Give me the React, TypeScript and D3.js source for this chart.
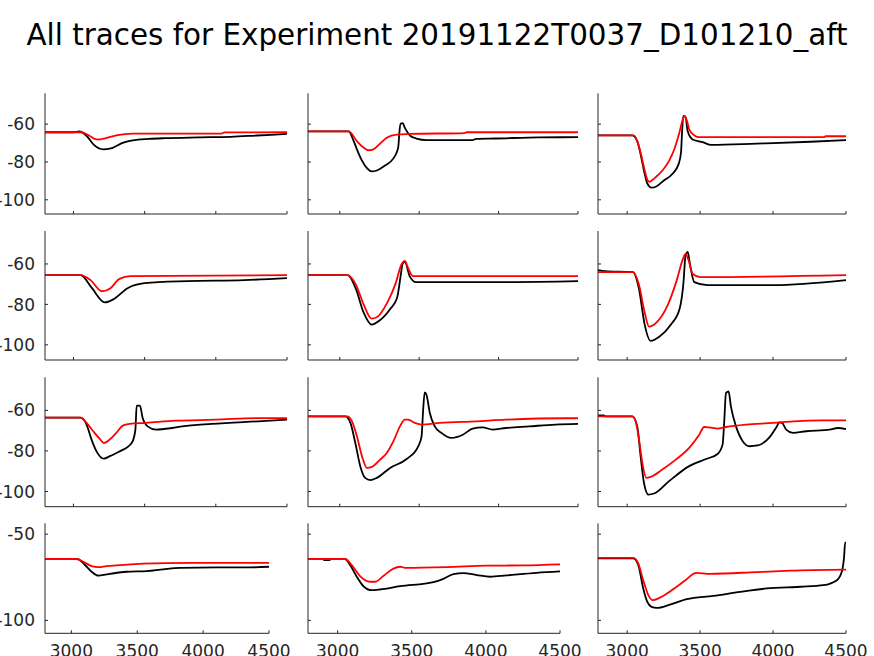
import React from "react";
import * as d3 from "d3";

type Pt = [number, number];

const titleText = "All traces for Experiment 20191122T0037_D101210_aft";
const xTicks = [3000, 3500, 4000, 4500];
const yTicksUpper = [-60, -80, -100];
const yTicksLower = [-50, -100];
const xDomain: Pt = [2800, 4500];
const yDomain: Pt = [-107.5, -43.7];

// Row 1
const r1c1Black: Pt[] = [[2800, -64.3], [3000, -64.3], [3040, -63.9], [3095, -66.4], [3140, -70.7], [3210, -73.3], [3255, -73], [3350, -69.8], [3415, -68.6], [3530, -67.8], [3645, -67.4], [3875, -67], [4105, -66.7], [4290, -66], [4500, -65.2]];
const r1c1Red: Pt[] = [[2800, -64.3], [3051, -64.3], [3110, -66], [3160, -68.1], [3190, -68], [3300, -66], [3415, -65], [4040, -65], [4060, -64.4], [4500, -64.3]];
const r1c2Black: Pt[] = [[2800, -63.8], [3056, -63.8], [3088, -69], [3108, -73.3], [3140, -79.3], [3171, -83.3], [3202, -85], [3233, -84.5], [3285, -81.9], [3338, -78.1], [3358, -75], [3369, -71.6], [3375, -64.7], [3383, -59.8], [3396, -59.5], [3410, -62], [3442, -66], [3483, -67.6], [3546, -68.4], [3837, -68.4], [3858, -67.8], [3983, -67.6], [4254, -67], [4500, -66.9]];
const r1c2Red: Pt[] = [[2800, -63.8], [3056, -63.8], [3108, -69], [3150, -72.4], [3181, -73.8], [3212, -73.3], [3254, -70.3], [3296, -67.2], [3358, -65.5], [3440, -65.2], [3785, -64.7], [3800, -64.3], [4500, -64.3]];
const r1c3Black: Pt[] = [[2800, -65.9], [3035, -65.9], [3069, -69], [3092, -75.9], [3115, -84.5], [3138, -91.4], [3168, -93.6], [3196, -93.1], [3253, -89.7], [3311, -86.2], [3353, -81], [3369, -75], [3376, -64.7], [3385, -55.7], [3399, -56], [3415, -63.8], [3449, -68.1], [3518, -69.5], [3576, -71], [3887, -70.3], [4256, -69.3], [4500, -68.4]];
const r1c3Red: Pt[] = [[2800, -65.9], [3046, -65.9], [3069, -69], [3092, -75], [3115, -82.8], [3138, -89.3], [3150, -90.5], [3170, -89.7], [3196, -88], [3242, -84.5], [3288, -79.3], [3323, -73.3], [3357, -64.7], [3380, -57.8], [3392, -55.7], [3408, -57.8], [3426, -62.9], [3461, -66], [3495, -66.9], [4348, -66.9], [4360, -66.4], [4500, -66.4]];

// Row 2
const r2c1Black: Pt[] = [[2800, -65.5], [3050, -65.5], [3130, -72], [3220, -79], [3280, -77.5], [3380, -72], [3500, -69.5], [3800, -68.5], [4200, -68], [4500, -67]];
const r2c1Red: Pt[] = [[2800, -65.5], [3050, -65.5], [3120, -68], [3200, -73.5], [3260, -72], [3320, -67.5], [3400, -66], [4500, -65.5]];
const r2c2Black: Pt[] = [[2800, -65.5], [3050, -65.5], [3100, -72], [3150, -84], [3200, -90], [3250, -88], [3320, -82], [3360, -77], [3385, -65], [3395, -60], [3410, -59], [3440, -66], [3480, -69], [4000, -69], [4500, -68.5]];
const r2c2Red: Pt[] = [[2800, -65.5], [3050, -65.5], [3100, -70], [3150, -80], [3200, -87], [3230, -86.5], [3300, -79], [3350, -70], [3390, -60], [3410, -58.5], [3430, -62], [3460, -66], [4500, -66]];
const r2c3Black: Pt[] = [[2800, -63], [2850, -63.5], [3040, -64], [3080, -72], [3120, -90], [3160, -98], [3220, -96], [3300, -90], [3360, -82], [3385, -70], [3400, -56], [3415, -54], [3430, -60], [3460, -69], [3550, -70.5], [4000, -70.5], [4500, -68]];
const r2c3Red: Pt[] = [[2800, -64], [3040, -64], [3080, -70], [3120, -84], [3150, -91], [3200, -89], [3280, -80], [3340, -68], [3380, -58], [3400, -55], [3420, -58], [3450, -65], [3500, -66.5], [4500, -65.5]];

// Row 3
const r3c1Black: Pt[] = [[2800, -63.6], [3050, -63.6], [3092, -67], [3127, -74.4], [3162, -80.2], [3213, -83.8], [3255, -82.6], [3324, -80.2], [3382, -78], [3416, -75.2], [3435, -69.5], [3444, -57.7], [3467, -57.7], [3486, -63.8], [3521, -67.9], [3579, -69.5], [3694, -68.7], [3764, -67.9], [3972, -66.7], [4296, -65.4], [4500, -64.6]];
const r3c1Red: Pt[] = [[2800, -63.6], [3046, -63.6], [3092, -66.2], [3139, -70.3], [3185, -74.1], [3213, -76.1], [3255, -74.4], [3301, -71.1], [3347, -67.5], [3394, -66.7], [3509, -66.2], [3718, -65.1], [3995, -64.6], [4296, -63.8], [4500, -63.8]];
const r3c2Black: Pt[] = [[2800, -63], [3035, -63], [3067, -66.2], [3098, -76.1], [3129, -87.5], [3160, -93.3], [3192, -94.4], [3233, -93.3], [3317, -88.4], [3421, -84], [3494, -77.7], [3515, -72.8], [3525, -59.7], [3535, -51.1], [3546, -52.3], [3567, -61.3], [3598, -67.9], [3640, -71.1], [3702, -73.6], [3775, -72], [3837, -69], [3900, -68.4], [3962, -69.5], [4046, -68.7], [4192, -67.9], [4358, -67], [4500, -66.7]];
const r3c2Red: Pt[] = [[2800, -63], [3046, -63], [3077, -65.4], [3108, -72.8], [3140, -82.6], [3171, -88.4], [3202, -87.9], [3254, -84.3], [3296, -81], [3338, -75.2], [3379, -67.9], [3410, -64.6], [3431, -64.6], [3473, -66.2], [3515, -67], [3629, -66.2], [3858, -65.4], [4046, -64.6], [4421, -63.9], [4500, -63.9]];
const r3c3Black: Pt[] = [[2800, -62.5], [2840, -62.5], [2850, -63], [3035, -63], [3069, -67.9], [3092, -82.6], [3115, -95.7], [3145, -101.5], [3184, -101], [3287, -94.9], [3425, -87.5], [3540, -84], [3620, -81.5], [3654, -76.9], [3666, -64.6], [3677, -51.5], [3695, -50.7], [3711, -58], [3746, -67.9], [3792, -75.2], [3838, -77.7], [3895, -77.3], [3975, -73.3], [4026, -67.9], [4044, -65.9], [4062, -66.2], [4090, -69.5], [4136, -71.1], [4227, -70.3], [4388, -69.5], [4445, -68.7], [4500, -69.2]];
const r3c3Red: Pt[] = [[2800, -63], [3035, -63], [3058, -65.4], [3081, -74.4], [3104, -85.9], [3131, -93.3], [3161, -92.8], [3241, -89.2], [3333, -84.3], [3425, -78.5], [3494, -72], [3528, -68.2], [3563, -68.4], [3620, -69], [3677, -68.2], [3815, -67], [4000, -66.2], [4138, -65.4], [4344, -64.9], [4500, -64.9]];

// Row 4
const r4c1Black: Pt[] = [[2800, -64.4], [3045, -64.4], [3104, -67.9], [3154, -71.8], [3205, -74.1], [3268, -73.3], [3420, -71.8], [3572, -71.4], [3698, -70.4], [3825, -69.6], [4103, -69.3], [4331, -69.3], [4500, -68.9]];
const r4c1Red: Pt[] = [[2800, -64.4], [3040, -64.4], [3091, -66], [3154, -68.5], [3205, -69.1], [3268, -68.5], [3344, -68.1], [3547, -67.1], [3901, -66.6], [4500, -66.6]];
const r4c2Black: Pt[] = [[2800, -64.4], [2900, -64.4], [2910, -65], [2945, -65], [2955, -64.4], [3050, -64.4], [3084, -67.9], [3129, -74.7], [3174, -80.2], [3230, -82.5], [3286, -82.1], [3421, -80.2], [3646, -77.8], [3713, -75.9], [3781, -73.2], [3848, -72.6], [3938, -73.7], [4028, -74.7], [4140, -73.9], [4343, -72.4], [4500, -71.6]];
const r4c2Red: Pt[] = [[2800, -64.4], [3050, -64.4], [3095, -67.9], [3151, -74.3], [3218, -77.6], [3252, -77.6], [3308, -74.3], [3376, -70], [3421, -68.9], [3454, -69.5], [3735, -69.1], [4005, -68.3], [4253, -68.1], [4500, -67.5]];
const r4c3Black: Pt[] = [[2800, -64], [3042, -64], [3076, -67.9], [3110, -81.5], [3138, -89.3], [3167, -92.2], [3202, -92.8], [3293, -90.9], [3408, -87.7], [3591, -85.8], [3774, -83.5], [3957, -81.5], [4185, -80.5], [4345, -79.6], [4437, -76.7], [4471, -71.8], [4487, -63], [4494, -54.9], [4500, -54.9]];
const r4c3Red: Pt[] = [[2800, -63.7], [3042, -63.7], [3076, -67], [3110, -76.7], [3145, -85.4], [3175, -88.3], [3225, -86.8], [3339, -80.5], [3408, -76.1], [3472, -72.4], [3568, -73], [3888, -72], [4117, -71.2], [4500, -70.6]];

const traceGrid: Pt[][][] = [
  [[r1c1Black, r1c1Red], [r1c2Black, r1c2Red], [r1c3Black, r1c3Red]],
  [[r2c1Black, r2c1Red], [r2c2Black, r2c2Red], [r2c3Black, r2c3Red]],
  [[r3c1Black, r3c1Red], [r3c2Black, r3c2Red], [r3c3Black, r3c3Red]],
  [[r4c1Black, r4c1Red], [r4c2Black, r4c2Red], [r4c3Black, r4c3Red]],
];

// layout (pixels)
const W = 874;
const H = 656;
const rowBands: Pt[] = [[93.3, 214], [231, 360], [377.3, 506.7], [523.3, 633.3]];
const colBandsUpper: Pt[] = [[45, 287], [308, 578], [598, 846]];
const colBandsLower: Pt[] = [[45, 269], [308, 560], [598, 846]];
const axisColor = "#262626";
const font = "'DejaVu Sans', sans-serif";

function Panel({ r, c }: { r: number; c: number }) {
  const [y0, y1] = rowBands[r];
  const [x0, x1] = r === 3 ? colBandsLower[c] : colBandsUpper[c];
  const x = d3.scaleLinear().domain(xDomain).range([x0, x1]);
  const y = d3.scaleLinear().domain(yDomain).range([y1, y0]);
  const line = d3
    .line<Pt>()
    .x((d) => x(d[0]))
    .y((d) => y(d[1]))
    .curve(d3.curveMonotoneX);
  const yt = r === 3 ? yTicksLower : yTicksUpper;
  const tl = 3;
  const [black, red] = traceGrid[r][c];
  return (
    <g>
      <path d={line(black) || ""} fill="none" stroke="#000" strokeWidth={1.8} strokeLinejoin="round" />
      <path d={line(red) || ""} fill="none" stroke="#ff0000" strokeWidth={1.8} strokeLinejoin="round" />
      <line x1={x0} x2={x0} y1={y0} y2={y1} stroke={axisColor} strokeWidth={1} />
      <line x1={x0} x2={x1} y1={y1} y2={y1} stroke={axisColor} strokeWidth={1} />
      {xTicks.map((t) => (
        <g key={"x" + t}>
          <line x1={x(t)} x2={x(t)} y1={y1} y2={y1 - tl} stroke={axisColor} strokeWidth={1} />
          {r === 3 && (
            <text x={x(t)} y={657} textAnchor="middle" fontFamily={font} fontSize={17} fill={axisColor}>
              {t}
            </text>
          )}
        </g>
      ))}
      {yt.map((t) => (
        <g key={"y" + t}>
          <line x1={x0} x2={x0 + tl} y1={y(t)} y2={y(t)} stroke={axisColor} strokeWidth={1} />
          {c === 0 && (
            <text x={x0 - 10} y={y(t)} dy="0.36em" textAnchor="end" fontFamily={font} fontSize={17} fill={axisColor}>
              {t}
            </text>
          )}
        </g>
      ))}
    </g>
  );
}

export default function App() {
  return (
    <svg width={W} height={H} style={{ position: "absolute", left: 0, top: 0, background: "#fff" }}>
      <rect x={0} y={0} width={W} height={H} fill="#fff" />
      <text x={W / 2} y={45} textAnchor="middle" fontFamily={font} fontSize={29.4} fill="#000">
        {titleText}
      </text>
      {[0, 1, 2, 3].map((r) => [0, 1, 2].map((c) => <Panel key={r + "-" + c} r={r} c={c} />))}
    </svg>
  );
}
